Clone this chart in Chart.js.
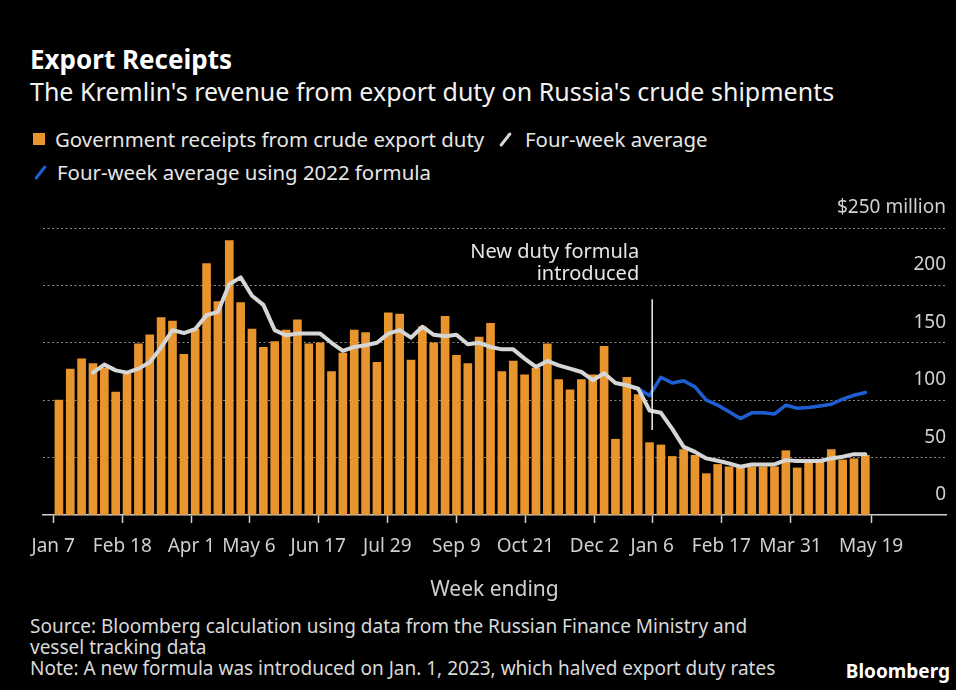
<!DOCTYPE html>
<html>
<head>
<meta charset="utf-8">
<script src="https://cdn.jsdelivr.net/npm/chart.js@4"></script>
<style>
body{margin:0;background:#000;font-family:"Noto Sans",sans-serif;}
#wrap{position:relative;width:956px;height:690px;background:#000;overflow:hidden}
.t{position:absolute;white-space:nowrap}
#title{left:30px;top:44px;font-size:26px;font-weight:700;color:#fff;line-height:1.2}
#sub{left:30px;top:76px;font-size:25px;color:#f2f2f2;line-height:1.2}
.leg{font-size:20.4px;color:#e6e6e6;line-height:1.2}
.sq{position:absolute;width:12px;height:12px;background:#e8952e}
.sl{position:absolute;width:3px;height:17px;border-radius:2px;transform:rotate(38deg)}
#foot{left:30px;top:615.5px;font-size:19px;color:#d9d9d9;line-height:21px;white-space:normal;width:820px}
#brand{right:6px;top:660px;font-size:19px;font-weight:700;color:#fff;line-height:1.2}
canvas{position:absolute;left:0;top:195px}
</style>
</head>
<body>
<div id="wrap">
<div class="t" id="title">Export Receipts</div>
<div class="t" id="sub">The Kremlin's revenue from export duty on Russia's crude shipments</div>

<div class="sq" style="left:33px;top:133px"></div>
<div class="t leg" style="left:55px;top:126.5px">Government receipts from crude export duty</div>
<div class="sl" style="left:504px;top:131px;background:#d6d6d6"></div>
<div class="t leg" style="left:525px;top:126.5px">Four-week average</div>
<div class="sl" style="left:39px;top:164px;background:#1d5fd3"></div>
<div class="t leg" style="left:57px;top:159.5px">Four-week average using 2022 formula</div>

<canvas id="grafico" width="956" height="410"></canvas>

<div class="t" id="foot">Source: Bloomberg calculation using data from the Russian Finance Ministry and<br>vessel tracking data<br>Note: A new formula was introduced on Jan. 1, 2023, which halved export duty rates</div>
<div class="t" id="brand">Bloomberg</div>
</div>

<script>
// weekly receipts, $ million, week ending Jan 7 2022 .. May 19 2023
let receitas=[100,127,136,132,128,107,123,149,157,172,169,140,162,219,186,239,185,162,146,151,161,170,149,150,125,141,161,159,133,176,175,135,164,150,173,139,132,155,167,125,134,122,128,149,118,109,118,122,147,66,120,105,63,61,51,57,52,36,44,42,41,42,42,42,56,41,48,48,57,48,49,52]

let media4=[null,null,null,124,131,126,124,127.5,133,146,161,158.5,162,174,177,201,207,191,183,161,156.5,158,158,158,150,143,146.4,147.8,150,158,161,154.5,164,157,155.7,157,148.7,150,146.4,144.3,144.3,136.2,129,134.2,130.4,127.5,124.6,117.4,123.5,115,113,110,91,89,75,59.4,55,49.3,47.2,45,42,44,44,44,47.8,47,47,47,49.3,50.7,53,53]

let media2022=[null,null,null,null,null,null,null,null,null,null,null,null,null,null,null,null,null,null,null,null,null,null,null,null,null,null,null,null,null,null,null,null,null,null,null,null,null,null,null,null,null,null,null,null,null,null,null,null,null,null,null,110,104,120,115,117,111.6,100,95.7,90,84,89,89,88,95.7,93,93.6,95,96.5,101,104.3,106.7]

let tickLabels=["Jan 7","Feb 18","Apr 1","May 6","Jun 17","Jul 29","Sep 9","Oct 21","Dec 2","Jan 6","Feb 17","Mar 31","May 19"]
let tickWeeks=[0,6,12,17,23,29,35,41,47,52,58,64,71]

let nBars=receitas.length
let weeksSpan=71
// week number -> bar slot position on the x axis
let pos=w=>w*nBars/weeksSpan

let ponto=(v,i)=>({x:i+0.5,y:v})

let fonte='"Noto Sans", sans-serif'

let anotacao={
id:'anotacao',
afterDatasetsDraw(c){
let x=c.scales.x, y=c.scales.y, ctx=c.ctx
let px=x.getPixelForValue(pos(52))
ctx.save()
ctx.strokeStyle='#f0f0f0'
ctx.lineWidth=1.5
ctx.beginPath()
ctx.moveTo(px,y.getPixelForValue(188))
ctx.lineTo(px,y.getPixelForValue(74))
ctx.stroke()
ctx.fillStyle='#e6e6e6'
ctx.font='20px '+fonte
ctx.textAlign='right'
ctx.textBaseline='middle'
ctx.fillText('New duty formula',px-13,y.getPixelForValue(229))
ctx.fillText('introduced',px-13,y.getPixelForValue(210))
ctx.restore()
}
}

let chart=new Chart(document.getElementById('grafico'),{
type:'bar',
data:{
datasets:[
{type:'line',label:'Four-week average',data:media4.map(ponto),borderColor:'#d6d6d6',borderWidth:4,pointRadius:0,borderJoinStyle:'round',borderCapStyle:'round',order:1},
{type:'line',label:'Four-week average using 2022 formula',data:media2022.map(ponto),borderColor:'#1d5fd3',borderWidth:3.5,pointRadius:0,borderJoinStyle:'round',borderCapStyle:'round',order:2},
{type:'bar',label:'Government receipts from crude export duty',data:receitas.map(ponto),backgroundColor:'#e8952e',barThickness:8,order:3}
]
},
options:{
responsive:false,
animation:false,
layout:{padding:{left:43,right:10,top:33,bottom:2}},
plugins:{legend:{display:false},tooltip:{enabled:false}},
scales:{
x:{
type:'linear',min:-0.9,max:78.6,offset:false,
afterBuildTicks:s=>{s.ticks=tickWeeks.map(w=>({value:pos(w)}))},
ticks:{callback:(v,i)=>tickLabels[i],autoSkip:false,maxRotation:0,color:'#d0d0d0',font:{family:fonte,size:19},padding:12},
grid:{offset:false,drawOnChartArea:false,drawTicks:true,tickLength:8,tickColor:'#cfcfcf',tickWidth:1.5},
border:{display:true,color:'#cfcfcf',width:1.5},
title:{display:true,text:'Week ending',color:'#d0d0d0',font:{family:fonte,size:21},padding:{top:8,bottom:0}}
},
y:{
position:'right',min:0,max:250,
ticks:{stepSize:50,mirror:true,padding:0,labelOffset:-20.5,color:'#d0d0d0',font:{family:fonte,size:19},
callback:v=>v==250?'$250 million':v},
grid:{drawTicks:false,lineWidth:1,color:c=>c.tick&&c.tick.value==0?'rgba(0,0,0,0)':'#8a8a8a'},
border:{display:false,dash:[2,2.5]}
}
}
},
plugins:[anotacao]
})
</script>
</body>
</html>
